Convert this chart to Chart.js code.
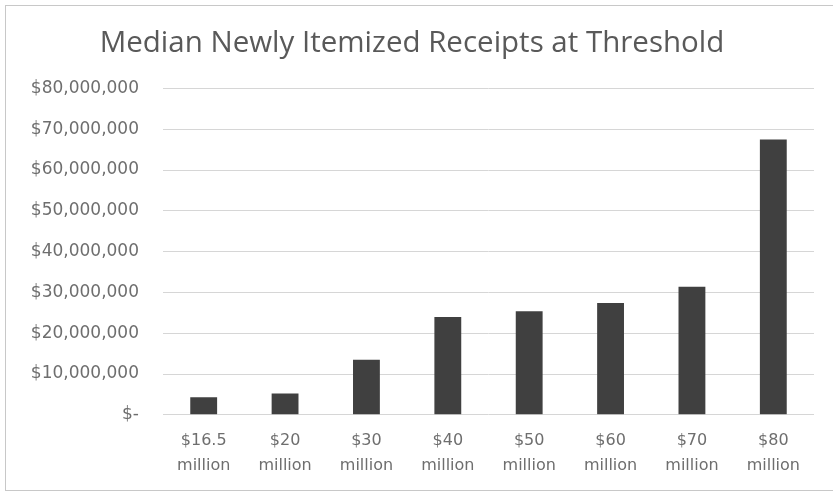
<!DOCTYPE html>
<html>
<head>
<meta charset="utf-8">
<script src="https://cdn.jsdelivr.net/npm/chart.js@4"></script>
<style>
  html, body { margin: 0; padding: 0; background: #fff; }
  #wrap { position: relative; width: 833px; height: 495px; }
  #frame { position: absolute; left: 5px; top: 5px; width: 834px; height: 486px; border: 1px solid #c8c8c8; box-sizing: border-box; }
  canvas { position: absolute; left: 0; top: 0; }
</style>
</head>
<body>
<div id="wrap">
  <div id="frame"></div>
  <canvas id="chart" width="833" height="495"></canvas>
</div>
<script>
// thresholds and median receipts
const categories = [
  ['$16.5', 'million'], ['$20', 'million'], ['$30', 'million'], ['$40', 'million'],
  ['$50', 'million'], ['$60', 'million'], ['$70', 'million'], ['$80', 'million'],
];
const receipts = [4300000, 5200000, 13500000, 24000000, 25400000, 27400000, 31400000, 67500000];
const yMax = 80000000;
const yStep = 10000000;

const grey = '#6e6e6e';

function money(v) {
  if (v === 0) return '$-';
  return '$' + v.toLocaleString('en-US');
}

new Chart(document.getElementById('chart'), {
  type: 'bar',
  data: {
    labels: categories,
    datasets: [{
      data: receipts,
      backgroundColor: '#404040',
      barPercentage: 0.33,
      categoryPercentage: 1,
    }],
  },
  options: {
    responsive: false,
    animation: false,
    layout: { padding: { left: 10, right: 19, top: 20, bottom: 11 } },
    plugins: {
      legend: { display: false },
      tooltip: { enabled: false },
      title: {
        display: true,
        text: 'Median Newly Itemized Receipts at Threshold',
        color: '#595959',
        font: { family: 'Open Sans', size: 29.5, weight: 'normal' },
        padding: { top: 6, bottom: 27 },
      },
    },
    scales: {
      x: {
        grid: { display: false },
        border: { display: false },
        ticks: {
          color: grey,
          padding: 5,
          maxRotation: 0,
          autoSkip: false,
          font: { family: 'DejaVu Sans', size: 16, lineHeight: 1.6 },
        },
      },
      y: {
        min: 0,
        max: yMax,
        afterFit: s => { s.width = 153; },
        grid: { color: '#d6d6d6', drawTicks: false, lineWidth: 1 },
        border: { display: false },
        ticks: {
          stepSize: yStep,
          color: grey,
          padding: 24,
          callback: money,
          font: { family: 'DejaVu Sans', size: 17 },
        },
      },
    },
  },
});
</script>
</body>
</html>
